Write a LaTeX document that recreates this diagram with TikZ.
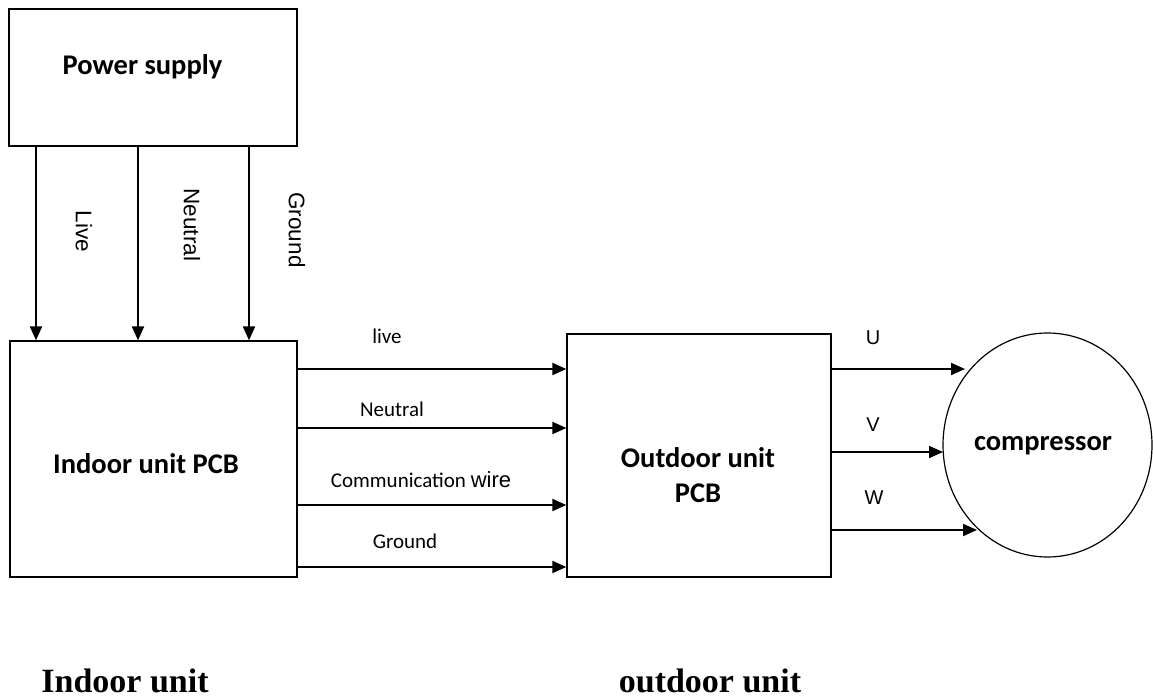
\documentclass[tikz,border=0pt]{standalone}
\usepackage{fontspec}
\setmainfont{Carlito}
\newfontfamily\timesfont{Liberation Serif}
\newfontfamily\arialfont{Liberation Sans}
\usetikzlibrary{arrows.meta,shapes.geometric}

\tikzset{
  block/.style={draw, line width=1.3pt, inner sep=0pt},
  wire/.style={line width=2pt, -{Triangle[length=14pt,width=12pt]}},
  lbl/.style={font=\fontsize{21}{25}\selectfont, inner sep=0pt},
  vlbl/.style={font=\arialfont\fontsize{22.5}{27}\selectfont, inner sep=0pt, rotate=-90},
  phase/.style={font=\arialfont\fontsize{20}{24}\selectfont, inner sep=0pt},
  title/.style={font=\fontsize{28.5}{35}\selectfont\bfseries, inner sep=0pt, anchor=base},
  unitlbl/.style={font=\timesfont\fontsize{34}{40}\selectfont\bfseries, inner sep=0pt, anchor=base}
}

\begin{document}
\begin{tikzpicture}[x=1pt,y=-1pt]
  \useasboundingbox (0,0) rectangle (1153,698);

  % blocks
  \node[block, minimum width=288pt, minimum height=137pt] (ps) at (153,77.5) {};
  \node[block, minimum width=287pt, minimum height=236pt] (pcbin) at (153.5,459) {};
  \node[block, minimum width=264pt, minimum height=243pt] (pcbout) at (699,455.5) {};
  \node[block, ellipse, line width=1.2pt, minimum width=209pt, minimum height=224pt] (comp) at (1047.5,445) {};

  % block texts
  \node[title] (pstxt) at (142.5,75) {Power supply};
  \node[title] (intxt) at (146,473) {Indoor unit PCB};
  \node[title] (outtxt) at (698,467) {Outdoor unit};
  \node[title] (pcbtxt) at (698,502) {PCB};
  \node[title, anchor=center] (comptxt) at (1043,446) {compressor};

  % mains into the indoor board
  \foreach \x in {36,138,249}
    \draw[wire] (\x,0 |- ps.south) -- (\x,0 |- pcbin.north);
  \node[vlbl] (live) at (84,231.5) {Live};
  \node[vlbl] (neutral) at (192,225) {Neutral};
  \node[vlbl] (ground) at (297,230) {Ground};

  % indoor to outdoor
  \foreach \y in {369,428,505,567}
    \draw[wire] (pcbin.east |- 0,\y) -- (pcbout.west |- 0,\y);
  \node[lbl] (hlive) at (387,336) {live};
  \node[lbl] (hneutral) at (392,409) {Neutral};
  \node[lbl] (hcomm) at (421,480) {Communication {\arialfont\fontsize{22}{26}\selectfont wire}};
  \node[lbl] (hground) at (405,541) {Ground};

  % outdoor to compressor
  \foreach \y/\xe in {369/965,452/943,530/977}
    \draw[wire] (pcbout.east |- 0,\y) -- (\xe,\y);
  \node[phase] (u) at (873,338) {U};
  \node[phase] (v) at (873,425) {V};
  \node[phase] (w) at (874,498) {W};

  % units
  \node[unitlbl] (indoor) at (125,692) {Indoor unit};
  \node[unitlbl] (outdoor) at (710,692) {outdoor unit};
\end{tikzpicture}
\end{document}
